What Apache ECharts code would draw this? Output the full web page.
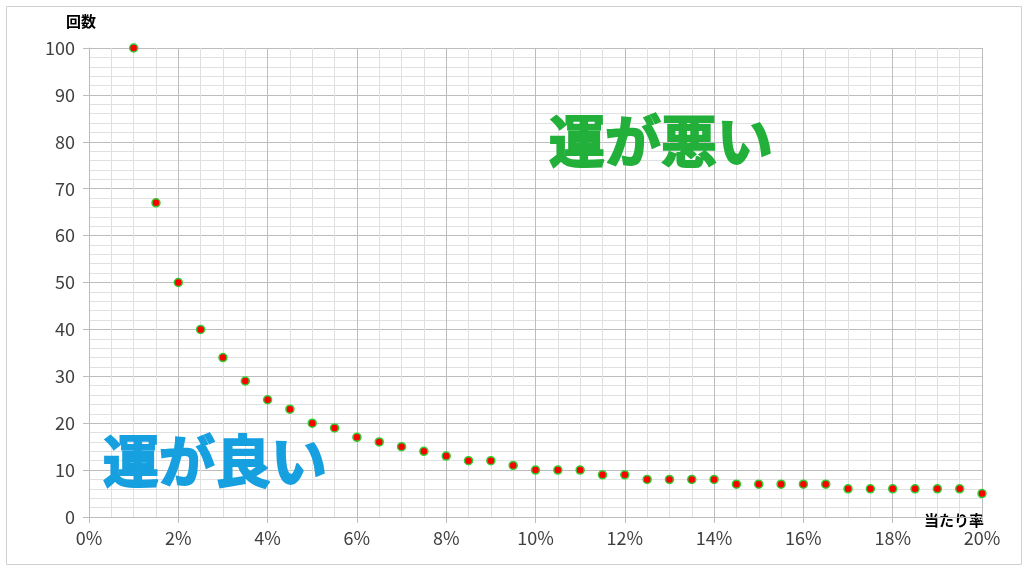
<!DOCTYPE html>
<html><head><meta charset="utf-8">
<script src="https://cdn.jsdelivr.net/npm/echarts@6/dist/echarts.min.js"></script>
<style>html,body{margin:0;padding:0;background:#fff}#c{width:1024px;height:568px}</style>
</head><body><div id="c"></div>
<script>
const rates = [1,1.5,2,2.5,3,3.5,4,4.5,5,5.5,6,6.5,7,7.5,8,8.5,9,9.5,10,10.5,11,11.5,12,12.5,13,13.5,14,14.5,15,15.5,16,16.5,17,17.5,18,18.5,19,19.5,20];
const counts = [100,67,50,40,34,29,25,23,20,19,17,16,15,14,13,12,12,11,10,10,10,9,9,8,8,8,8,7,7,7,7,7,6,6,6,6,6,6,5];
const chart = echarts.init(document.getElementById('c'));
const font = '"Noto Sans CJK JP", sans-serif';
chart.setOption({
  animation:false,
  grid:{left:89,right:42,top:48,bottom:51},
  xAxis:{type:'value',min:0,max:20,interval:2,minorTick:{show:false,splitNumber:4},
    minorSplitLine:{show:true,lineStyle:{color:'#e0e0e0',width:1}},
    splitLine:{lineStyle:{color:'#bdbdbd'}},
    axisLine:{lineStyle:{color:'#bdbdbd'}},axisTick:{show:true,inside:false,length:6,lineStyle:{color:'#bdbdbd'}},
    axisLabel:{formatter:v=>v+'%',color:'#404040',fontSize:18,fontFamily:font,margin:12}},
  yAxis:{type:'value',min:0,max:100,interval:10,minorTick:{show:false,splitNumber:5},
    minorSplitLine:{show:true,lineStyle:{color:'#e0e0e0',width:1}},
    splitLine:{lineStyle:{color:'#bdbdbd'}},
    axisLine:{show:true,lineStyle:{color:'#bdbdbd'}},axisTick:{show:true,length:6,lineStyle:{color:'#bdbdbd'}},
    axisLabel:{color:'#404040',fontSize:18,fontFamily:font,margin:14}},
  series:[{type:'scatter',data:rates.map((r,i)=>[r,counts[i]]),symbolSize:8,
    itemStyle:{color:'#ff0000',borderColor:'#33cc33',borderWidth:1.5,opacity:1}}],
  graphic:[
    {type:'rect',left:4,top:4,shape:{width:1015,height:558},style:{fill:'none',stroke:'#d0d0d0',lineWidth:1}},
    {type:'text',left:66,top:14,style:{text:'回数',font:'bold 15px '+font,fill:'#000'}},
    {type:'text',left:924,top:513,style:{text:'当たり率',font:'bold 15px '+font,fill:'#000'}},
    {type:'text',left:548,top:112,z:100,style:{text:'運が悪い',font:'bold 56px '+font,fill:'#22b03a',stroke:'#22b03a',lineWidth:2}},
    {type:'text',left:102,top:432,z:100,style:{text:'運が良い',font:'bold 56px '+font,fill:'#17a0e0',stroke:'#17a0e0',lineWidth:2}}
  ]
});
</script></body></html>
